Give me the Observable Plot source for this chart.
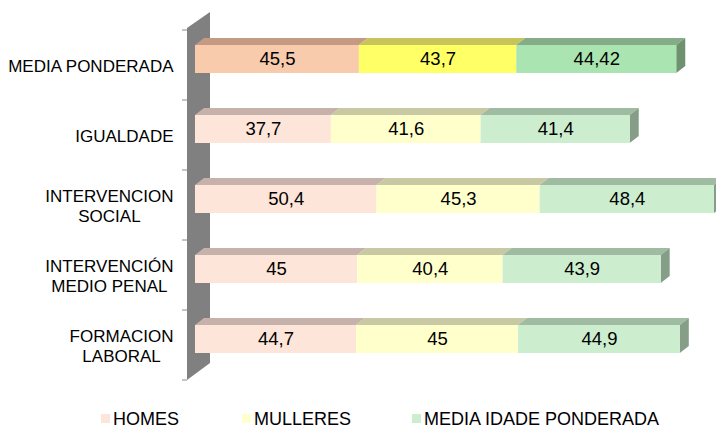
<!DOCTYPE html>
<html><head><meta charset="utf-8">
<script src="https://cdn.jsdelivr.net/npm/d3@7"></script>
<script src="https://cdn.jsdelivr.net/npm/@observablehq/plot@0.6"></script>
<style>
body{margin:0;background:#fff;font-family:"Liberation Sans",Arial,sans-serif;overflow:hidden;}
#legend{position:relative;height:28px;width:716px;font-size:18px;color:#000;}
.sw{position:absolute;top:14px;width:9px;height:9px;}
.lt{position:absolute;top:8px;line-height:22px;white-space:nowrap;}
</style></head><body><div id="chart"></div><div id="legend"></div>
<script>
const categories = ["MEDIA PONDERADA", "IGUALDADE", "INTERVENCION\nSOCIAL", "INTERVENCIÓN\nMEDIO PENAL", "FORMACION\nLABORAL"];
const series = ["HOMES", "MULLERES", "MEDIA IDADE PONDERADA"];
const homes = [45.5, 37.7, 50.4, 45, 44.7];
const mulleres = [43.7, 41.6, 45.3, 40.4, 45];
const mediaIdade = [44.42, 41.4, 48.4, 43.9, 44.9];
const highlightCategory = "MEDIA PONDERADA";

const frontColors = ["#FDE5D9", "#FFFFCC", "#CCEECF"];
const frontHighlight = ["#F8CBAD", "#FFFF66", "#AAE4B0"];
const topColors = ["#C6B2AA", "#C8C8A2", "#9FBBA1"];
const topHighlight = ["#C49A85", "#C8C45A", "#84AC86"];
const sideColor = "#869E88";
const sideHighlight = "#6E9270";
const legendColors = ["#FDE5D9", "#FFFFCC", "#CCEECF"];
const legendLeft = [101, 242, 412];

const values = [homes, mulleres, mediaIdade];
const rows = categories.flatMap((c, i) => series.map((s, j) => ({
  category: c, series: s, si: j, value: values[j][i], hi: c === highlightCategory
})));
const fmt = v => String(v).replace(".", ",");
const totals = categories.map((c, i) => homes[i] + mulleres[i] + mediaIdade[i]);

const FONT = "'Liberation Sans', Arial, sans-serif";
const LIFT = -6;

const chart = Plot.plot({
  width: 716, height: 400,
  marginLeft: 195, marginRight: 2, marginTop: 30, marginBottom: 20,
  x: {domain: [0, d3.max(totals)], axis: null},
  y: {domain: categories, range: [30, 380], paddingInner: 0.6, paddingOuter: 0.3, axis: null},
  color: {type: "identity"},
  style: {fontFamily: FONT, overflow: "visible", background: "#fff"},
  marks: [
    Plot.barX(rows, Plot.stackX({x: "value", y: "category", fill: d => (d.hi ? frontHighlight : frontColors)[d.si], dy: LIFT})),
    Plot.text(rows, Plot.stackX({x: "value", y: "category", text: d => fmt(d.value), fill: "#000", fontSize: 18.5, dy: LIFT})),
    Plot.text(categories, {y: d => d, text: d => d, frameAnchor: "left", textAnchor: "end", dx: -22, fontSize: 17, lineHeight: 1.2, fill: "#000"})
  ]
});
document.getElementById("chart").append(chart);

const x = chart.scale("x"), y = chart.scale("y");
const svg = d3.select(chart);
const bw = y.bandwidth, step = y.step;
const [yr0, yr1] = y.range;
const x0 = x.apply(0);
const layer = svg.insert("g", ":first-child");

// wall
layer.append("polygon")
  .attr("points", [[x0 - 8, yr0 - 2], [x0 + 15, yr0 - 18], [x0 + 15, yr1 - 17], [x0 - 8, yr1]].map(p => p.join(",")).join(" "))
  .attr("fill", "#808080");
// ticks
for (let k = 0; k <= categories.length; k++) {
  const ty = yr0 + k * step;
  layer.append("line").attr("x1", x0 - 13).attr("x2", x0 - 8).attr("y1", ty).attr("y2", ty)
    .attr("stroke", "#8a8a8a").attr("stroke-width", 1);
}
// 3D faces
const D = 9, DY = 7;
categories.forEach((c, i) => {
  const hi = c === highlightCategory;
  const yTop = y.apply(c) + LIFT, yBot = yTop + bw;
  let acc = 0;
  values.forEach((arr, j) => {
    const a = x.apply(acc), b = x.apply(acc + arr[i]);
    acc += arr[i];
    layer.append("polygon")
      .attr("points", [[a, yTop], [b, yTop], [b + D, yTop - DY], [a + D, yTop - DY]].map(p => p.join(",")).join(" "))
      .attr("fill", (hi ? topHighlight : topColors)[j]);
    if (j === values.length - 1) {
      layer.append("polygon")
        .attr("points", [[b, yTop], [b + D, yTop - DY], [b + D, yBot - DY], [b, yBot]].map(p => p.join(",")).join(" "))
        .attr("fill", hi ? sideHighlight : sideColor);
    }
  });
});

// center multi-line category labels within their block
svg.selectAll("text").filter(function() { return this.querySelector("tspan"); }).each(function() {
  const w = this.getBBox().width;
  d3.select(this).attr("text-anchor", "middle").selectAll("tspan").attr("x", -w / 2);
});

// legend
const legend = d3.select("#legend");
series.forEach((s, j) => {
  legend.append("div").attr("class", "sw").style("left", legendLeft[j] + "px").style("background", legendColors[j]);
  legend.append("div").attr("class", "lt").style("left", (legendLeft[j] + 12) + "px").text(s);
});
</script></body></html>
